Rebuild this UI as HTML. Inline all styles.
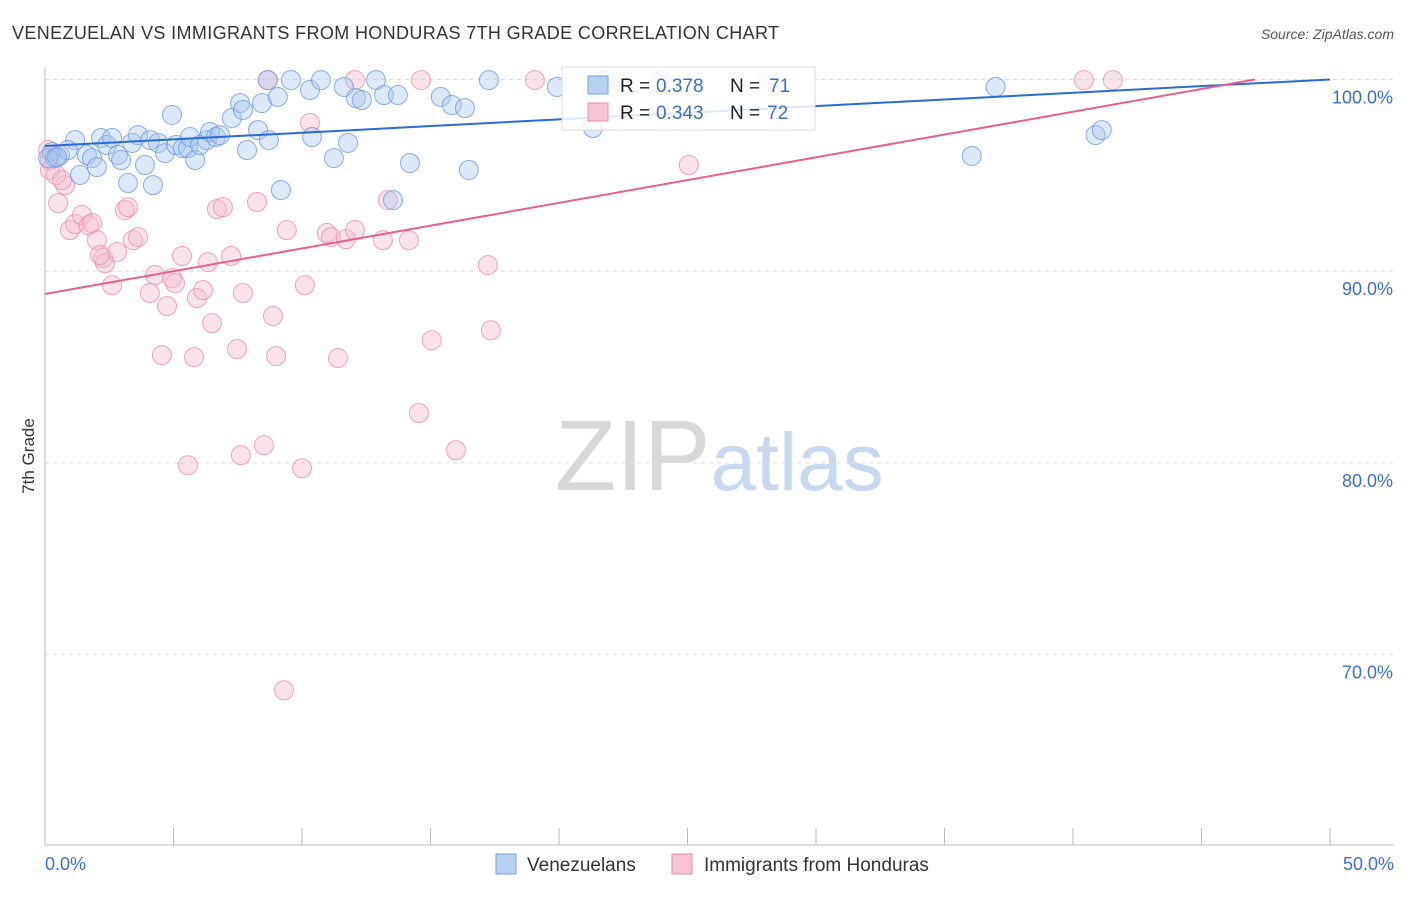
<!DOCTYPE html>
<html><head><meta charset="utf-8"><style>
body{margin:0;background:#fff;font-family:"Liberation Sans",sans-serif;}
svg text{font-family:"Liberation Sans",sans-serif;}
</style></head><body>
<svg id="chart" width="1406" height="892" xmlns="http://www.w3.org/2000/svg">
<text x="12" y="39" font-size="18" fill="#333" textLength="767">VENEZUELAN VS IMMIGRANTS FROM HONDURAS 7TH GRADE CORRELATION CHART</text>
<text x="1394" y="39" font-size="14" fill="#555" font-style="italic" text-anchor="end">Source: ZipAtlas.com</text>
<text x="555" y="490" font-size="100" fill="#ddd" font-family="Liberation Serif"><tspan fill="#d8d8d8">ZIP</tspan><tspan fill="#c8d8ee" font-family="Liberation Sans" font-size="82">atlas</tspan></text>
<g id="grid"></g>
<g id="axes"></g>
<g id="pts"></g>
<g id="lines"></g>
<text transform="translate(34,456) rotate(-90)" font-size="17" fill="#333" text-anchor="middle">7th Grade</text>
<g>
<rect x="562" y="67" width="253" height="63" fill="#fff" fill-opacity="0.85" stroke="#ddd"/>
<rect x="588" y="76" width="20" height="18" fill="#b8d0f2" stroke="#7aa3e0"/>
<text y="92" font-size="19" fill="#222"><tspan x="620">R =</tspan><tspan x="656" fill="#3a6fd1">0.378</tspan><tspan x="730">N =</tspan><tspan x="769" fill="#3a6fd1">71</tspan></text>
<rect x="588" y="103" width="20" height="18" fill="#f8c3d4" stroke="#ea8fae"/>
<text y="119" font-size="19" fill="#222"><tspan x="620">R =</tspan><tspan x="656" fill="#3a6fd1">0.343</tspan><tspan x="730">N =</tspan><tspan x="767" fill="#3a6fd1">72</tspan></text>
</g>
<g>
<rect x="496" y="854" width="20" height="20" fill="#b8d0f2" stroke="#7aa3e0"/>
<text x="527" y="871" font-size="19" fill="#333">Venezuelans</text>
<rect x="672" y="854" width="20" height="20" fill="#f8c3d4" stroke="#ea8fae"/>
<text x="704" y="871" font-size="19" fill="#333">Immigrants from Honduras</text>
</g>
</svg>
<script>
const blueX=[.27,.39,.58,1.17,.89,1.36,1.63,1.83,2.02,2.18,2.41,2.61,2.84,2.96,3.23,3.39,3.62,3.89,4.09,4.2,4.4,4.67,4.94,5.1,5.37,5.56,5.64,5.84,6.03,6.3,6.42,6.65,6.81,7.27,7.59,7.7,7.86,8.29,8.44,8.67,8.71,9.06,9.18,9.57,10.31,10.39,10.74,11.24,11.63,11.79,12.1,12.33,12.88,13.19,13.73,13.54,14.2,15.4,15.83,16.34,16.49,17.27,19.92,21.32,21.79,36.06,36.99,40.88,41.12,.12,.47];
const blueY=[96.22,95.9,96.06,96.84,96.32,95.02,96.06,95.9,95.43,96.95,96.58,96.95,96.06,95.8,94.6,96.69,97.1,95.54,96.84,94.49,96.69,96.16,98.15,96.58,96.42,96.42,97.0,95.8,96.58,96.84,97.26,97.0,97.1,97.99,98.77,98.41,96.32,97.36,98.77,99.97,96.84,99.09,94.23,99.97,99.45,97.0,99.97,95.9,99.61,96.69,99.03,98.93,99.97,99.19,99.19,93.71,95.64,99.09,98.67,98.51,95.28,99.97,99.61,97.47,99.97,96.01,99.61,97.1,97.36,95.9,95.95];
const pinkX=[.12,.19,.51,.78,.97,1.17,1.44,1.71,1.83,2.02,2.26,2.33,2.61,2.8,3.11,3.23,3.42,3.62,4.08,4.28,4.55,4.75,4.94,5.06,5.33,5.56,5.8,5.91,6.15,6.34,6.5,6.69,6.92,7.24,7.47,7.62,7.7,8.25,8.52,8.67,8.87,8.99,9.3,9.41,10.0,10.11,10.31,10.97,11.13,11.4,11.71,12.06,12.06,13.15,13.34,14.16,14.55,14.63,15.05,15.99,17.23,17.35,19.06,23.96,25.05,28.16,40.42,41.55,.19,.43,.66,2.14];
const pinkY=[96.32,95.28,93.55,94.49,92.14,92.46,92.93,92.4,92.51,91.62,90.68,90.42,89.27,91.0,93.19,93.34,91.62,91.78,88.86,89.8,85.62,88.18,89.64,89.38,90.79,79.88,85.52,88.6,89.01,90.47,87.29,93.24,93.34,90.79,85.94,80.4,88.86,93.61,80.92,99.97,87.66,85.57,68.14,92.14,79.72,89.27,97.73,91.99,91.78,85.47,91.67,99.97,92.14,91.62,93.71,91.62,82.6,99.97,86.4,80.66,90.32,86.92,99.97,99.97,95.54,99.97,99.97,99.97,95.8,95.02,94.75,90.84];
const blueTrend=[96.53,0.0694]; // intercept, slope
const pinkTrend=[88.81,0.2377];
const yTicks=[100,90,80,70];
const yTickLabels=["100.0%","90.0%","80.0%","70.0%"];
const xTicks=[0,5,10,15,20,25,30,35,40,45,50];

const NS="http://www.w3.org/2000/svg";
const X0=45,X1=1330,YTOP=79.5,PPY=19.17;
const sx=v=>X0+(v/50)*(X1-X0);
const sy=v=>YTOP+(100-v)*PPY;
function mk(tag,attrs,parent){const e=document.createElementNS(NS,tag);for(const k in attrs)e.setAttribute(k,attrs[k]);parent.appendChild(e);return e;}
const grid=document.getElementById('grid'),axes=document.getElementById('axes'),pts=document.getElementById('pts'),lines=document.getElementById('lines');
yTicks.forEach((t,i)=>{
 const l=mk('line',{x1:X0,x2:1394,y1:sy(t),y2:sy(t),stroke:'#ddd','stroke-dasharray':'4,4'},grid);
 
 
 const tx=mk('text',{x:1393,y:sy(t)+24,'font-size':18,fill:'#3a6fd1','text-anchor':'end'},axes);
 tx.textContent=yTickLabels[i];
 
 
});
const ya=mk('line',{x1:X0,x2:X0,y1:67,y2:845,stroke:'#bbb'},axes);


const xa=mk('line',{x1:X0,x2:1394,y1:845,y2:845,stroke:'#bbb'},axes);


xTicks.forEach(t=>{
 const l=mk('line',{x1:sx(t),x2:sx(t),y1:828,y2:845,stroke:'#bbb'},axes);
 
 
});
const xl0=mk('text',{x:45,y:870,'font-size':18,fill:'#3a6fd1'},axes);xl0.textContent='0.0%';


const xl1=mk('text',{x:1394,y:870,'font-size':18,fill:'#3a6fd1','text-anchor':'end'},axes);xl1.textContent='50.0%';


function dots(X,Y,fill,stroke,name){X.forEach((x,i)=>{
 const c=mk('circle',{cx:sx(x),cy:sy(Y[i]),r:9.5,fill:fill,'fill-opacity':0.4,stroke:stroke,'stroke-opacity':0.8,'stroke-width':1},pts);
 
 
});}
dots(pinkX,pinkY,'#f6b8cc','#eb8fb0','honduras-point');
dots(blueX,blueY,'#a9c6f0','#6f9be0','venezuelan-point');
const bEnd=50;
const bl=mk('line',{x1:sx(0),y1:sy(blueTrend[0]),x2:sx(bEnd),y2:sy(blueTrend[0]+blueTrend[1]*bEnd),stroke:'#2a6bd6','stroke-width':2},lines);


const pEnd=(100-pinkTrend[0])/pinkTrend[1];
const pl=mk('line',{x1:sx(0),y1:sy(pinkTrend[0]),x2:sx(pEnd),y2:sy(100),stroke:'#e8608f','stroke-width':2},lines);


</script>
</body></html>
